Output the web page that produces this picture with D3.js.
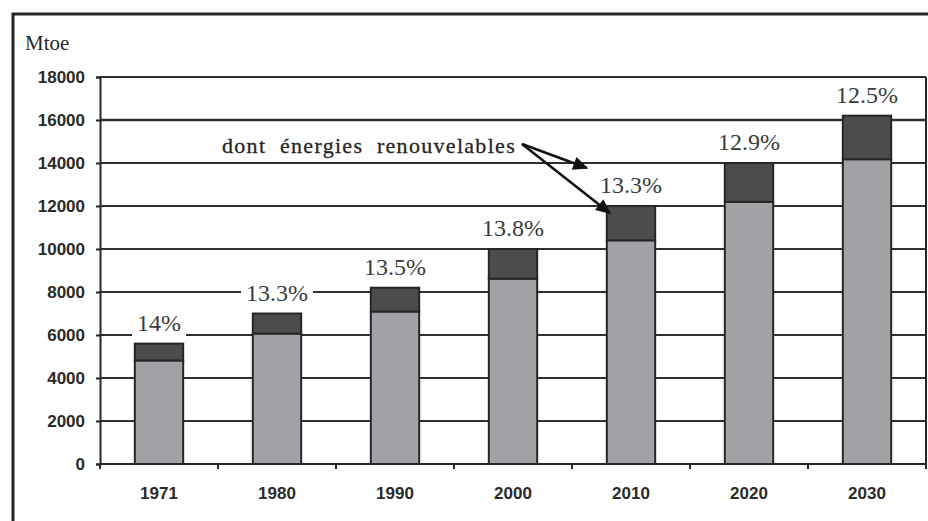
<!DOCTYPE html>
<html>
<head>
<meta charset="utf-8">
<script src="https://cdn.jsdelivr.net/npm/d3@7"></script>
<style>
  html, body { margin: 0; padding: 0; background: #fff; }
  svg { display: block; }
</style>
</head>
<body>
<svg id="chart" width="928" height="521"></svg>
<script>
// World primary energy demand (Mtoe) and renewable share
const years = ["1971", "1980", "1990", "2000", "2010", "2020", "2030"];
const totals = [5600, 7000, 8200, 10000, 12000, 14000, 16200];
const renewShare = [14, 13.3, 13.5, 13.8, 13.3, 12.9, 12.5];
const shareLabels = ["14%", "13.3%", "13.5%", "13.8%", "13.3%", "12.9%", "12.5%"];
const yTicks = [0, 2000, 4000, 6000, 8000, 10000, 12000, 14000, 16000, 18000];
const unitLabel = "Mtoe";
const noteText = "dont énergies renouvelables";
const noteYear = "2010";

const rows = years.map((y, i) => {
  const renew = totals[i] * renewShare[i] / 100;
  return { year: y, total: totals[i], renew, other: totals[i] - renew, label: shareLabels[i] };
});

const svg = d3.select("#chart");
const W = 928, H = 521;
const plot = { left: 100, right: 926, top: 77, bottom: 464 };

const x = d3.scaleBand()
  .domain(years)
  .range([plot.left, plot.right])
  .paddingInner(0.59)
  .paddingOuter(0.295);

const y = d3.scaleLinear()
  .domain([0, 18000])
  .range([plot.bottom, plot.top]);

const ink = "#262626";

// outer frame (top and left edges)
svg.append("path")
  .attr("d", `M13,${H} L13,14 L${W},14`)
  .attr("fill", "none")
  .attr("stroke", ink)
  .attr("stroke-width", 3);

// horizontal grid lines
svg.append("g")
  .selectAll("line")
  .data(yTicks)
  .join("line")
  .attr("x1", plot.left)
  .attr("x2", plot.right)
  .attr("y1", d => y(d))
  .attr("y2", d => y(d))
  .attr("stroke", "#303030")
  .attr("stroke-width", d => d === 16000 ? 2.6 : 2);

// right border of plot area
svg.append("line")
  .attr("x1", plot.right).attr("x2", plot.right)
  .attr("y1", plot.top).attr("y2", plot.bottom + 4)
  .attr("stroke", ink).attr("stroke-width", 2);

// y axis
const yAxis = svg.append("g")
  .attr("transform", `translate(${plot.left},0)`)
  .call(d3.axisLeft(y).tickValues(yTicks).tickSize(4).tickPadding(11).tickFormat(d3.format("d")));
yAxis.select(".domain").attr("stroke", ink).attr("stroke-width", 2);
yAxis.selectAll(".tick line").attr("stroke", ink).attr("stroke-width", 2);
yAxis.selectAll(".tick text")
  .attr("font-family", "'Liberation Sans', Arial, sans-serif")
  .attr("font-size", 17)
  .attr("font-weight", "bold")
  .attr("fill", "#2a2a2a");

// x axis with ticks between categories
const boundaries = d3.range(years.length + 1).map(i => plot.left + i * x.step());
svg.append("g")
  .selectAll("line")
  .data(boundaries)
  .join("line")
  .attr("x1", d => d).attr("x2", d => d)
  .attr("y1", plot.bottom).attr("y2", plot.bottom + 5)
  .attr("stroke", ink).attr("stroke-width", 2);
svg.append("line")
  .attr("x1", plot.left).attr("x2", plot.right)
  .attr("y1", plot.bottom).attr("y2", plot.bottom)
  .attr("stroke", ink).attr("stroke-width", 2);

const xAxis = svg.append("g")
  .attr("transform", `translate(0,${plot.bottom})`)
  .call(d3.axisBottom(x).tickSize(0).tickPadding(23));
xAxis.select(".domain").remove();
xAxis.selectAll(".tick text")
  .attr("font-family", "'Liberation Sans', Arial, sans-serif")
  .attr("font-size", 17)
  .attr("font-weight", "bold")
  .attr("fill", "#2a2a2a");

// stacked bars: non-renewable (light) and renewable (dark) parts
const bars = svg.append("g").selectAll("g").data(rows).join("g");
bars.append("rect")
  .attr("x", d => x(d.year))
  .attr("width", x.bandwidth())
  .attr("y", d => y(d.other))
  .attr("height", d => y(0) - y(d.other))
  .attr("fill", "#a2a2a6")
  .attr("stroke", ink)
  .attr("stroke-width", 2);
bars.append("rect")
  .attr("x", d => x(d.year))
  .attr("width", x.bandwidth())
  .attr("y", d => y(d.total))
  .attr("height", d => y(d.other) - y(d.total))
  .attr("fill", "#4c4c4c")
  .attr("stroke", ink)
  .attr("stroke-width", 2);

// share labels with white backing that interrupts the grid lines
const labelG = svg.append("g").selectAll("g").data(rows).join("g");
const labelText = labelG.append("text")
  .attr("x", d => x(d.year) + x.bandwidth() / 2)
  .attr("y", d => y(d.total) - 13)
  .attr("text-anchor", "middle")
  .attr("font-family", "'Liberation Serif', 'Times New Roman', serif")
  .attr("font-size", 24)
  .attr("fill", "#3c3c3c")
  .text(d => d.label);
labelText.each(function () {
  const b = this.getBBox();
  d3.select(this.parentNode).insert("rect", "text")
    .attr("x", b.x - 5)
    .attr("y", b.y + 1)
    .attr("width", b.width + 10)
    .attr("height", b.height + 3)
    .attr("fill", "#fff");
});

// unit label
svg.append("text")
  .attr("x", 25).attr("y", 50)
  .attr("font-family", "'Liberation Serif', 'Times New Roman', serif")
  .attr("font-size", 21)
  .attr("fill", "#2a2a2a")
  .text(unitLabel);

// annotation pointing at the renewable part
const defs = svg.append("defs");
defs.append("marker")
  .attr("id", "head")
  .attr("viewBox", "0 0 10 10")
  .attr("refX", 9).attr("refY", 5)
  .attr("markerWidth", 7).attr("markerHeight", 6)
  .attr("orient", "auto")
  .attr("markerUnits", "strokeWidth")
  .append("path")
  .attr("d", "M0,0.5 L10,5 L0,9.5 Z")
  .attr("fill", "#111");

const note = svg.append("text")
  .attr("x", 222).attr("y", 153)
  .attr("font-family", "'Liberation Serif', 'Times New Roman', serif")
  .attr("font-size", 22)
  .attr("letter-spacing", 1.3)
  .attr("fill", "#262626")
  .attr("stroke", "#262626")
  .attr("stroke-width", 0.3)
  .text(noteText);
const noteWidth = note.node().getComputedTextLength();
note.attr("word-spacing", Math.max(0, (294 - noteWidth) / 2));

const noteRow = rows.find(r => r.year === noteYear);
const ox = 522, oy = 144;
const bx = x(noteYear), by = y(noteRow.total);
svg.append("line")
  .attr("x1", ox).attr("y1", oy)
  .attr("x2", bx - 20).attr("y2", by - 38)
  .attr("stroke", "#111").attr("stroke-width", 2.5)
  .attr("marker-end", "url(#head)");
svg.append("line")
  .attr("x1", ox).attr("y1", oy)
  .attr("x2", bx + 3).attr("y2", by + 7)
  .attr("stroke", "#111").attr("stroke-width", 2.5)
  .attr("marker-end", "url(#head)");
</script>
</body>
</html>
